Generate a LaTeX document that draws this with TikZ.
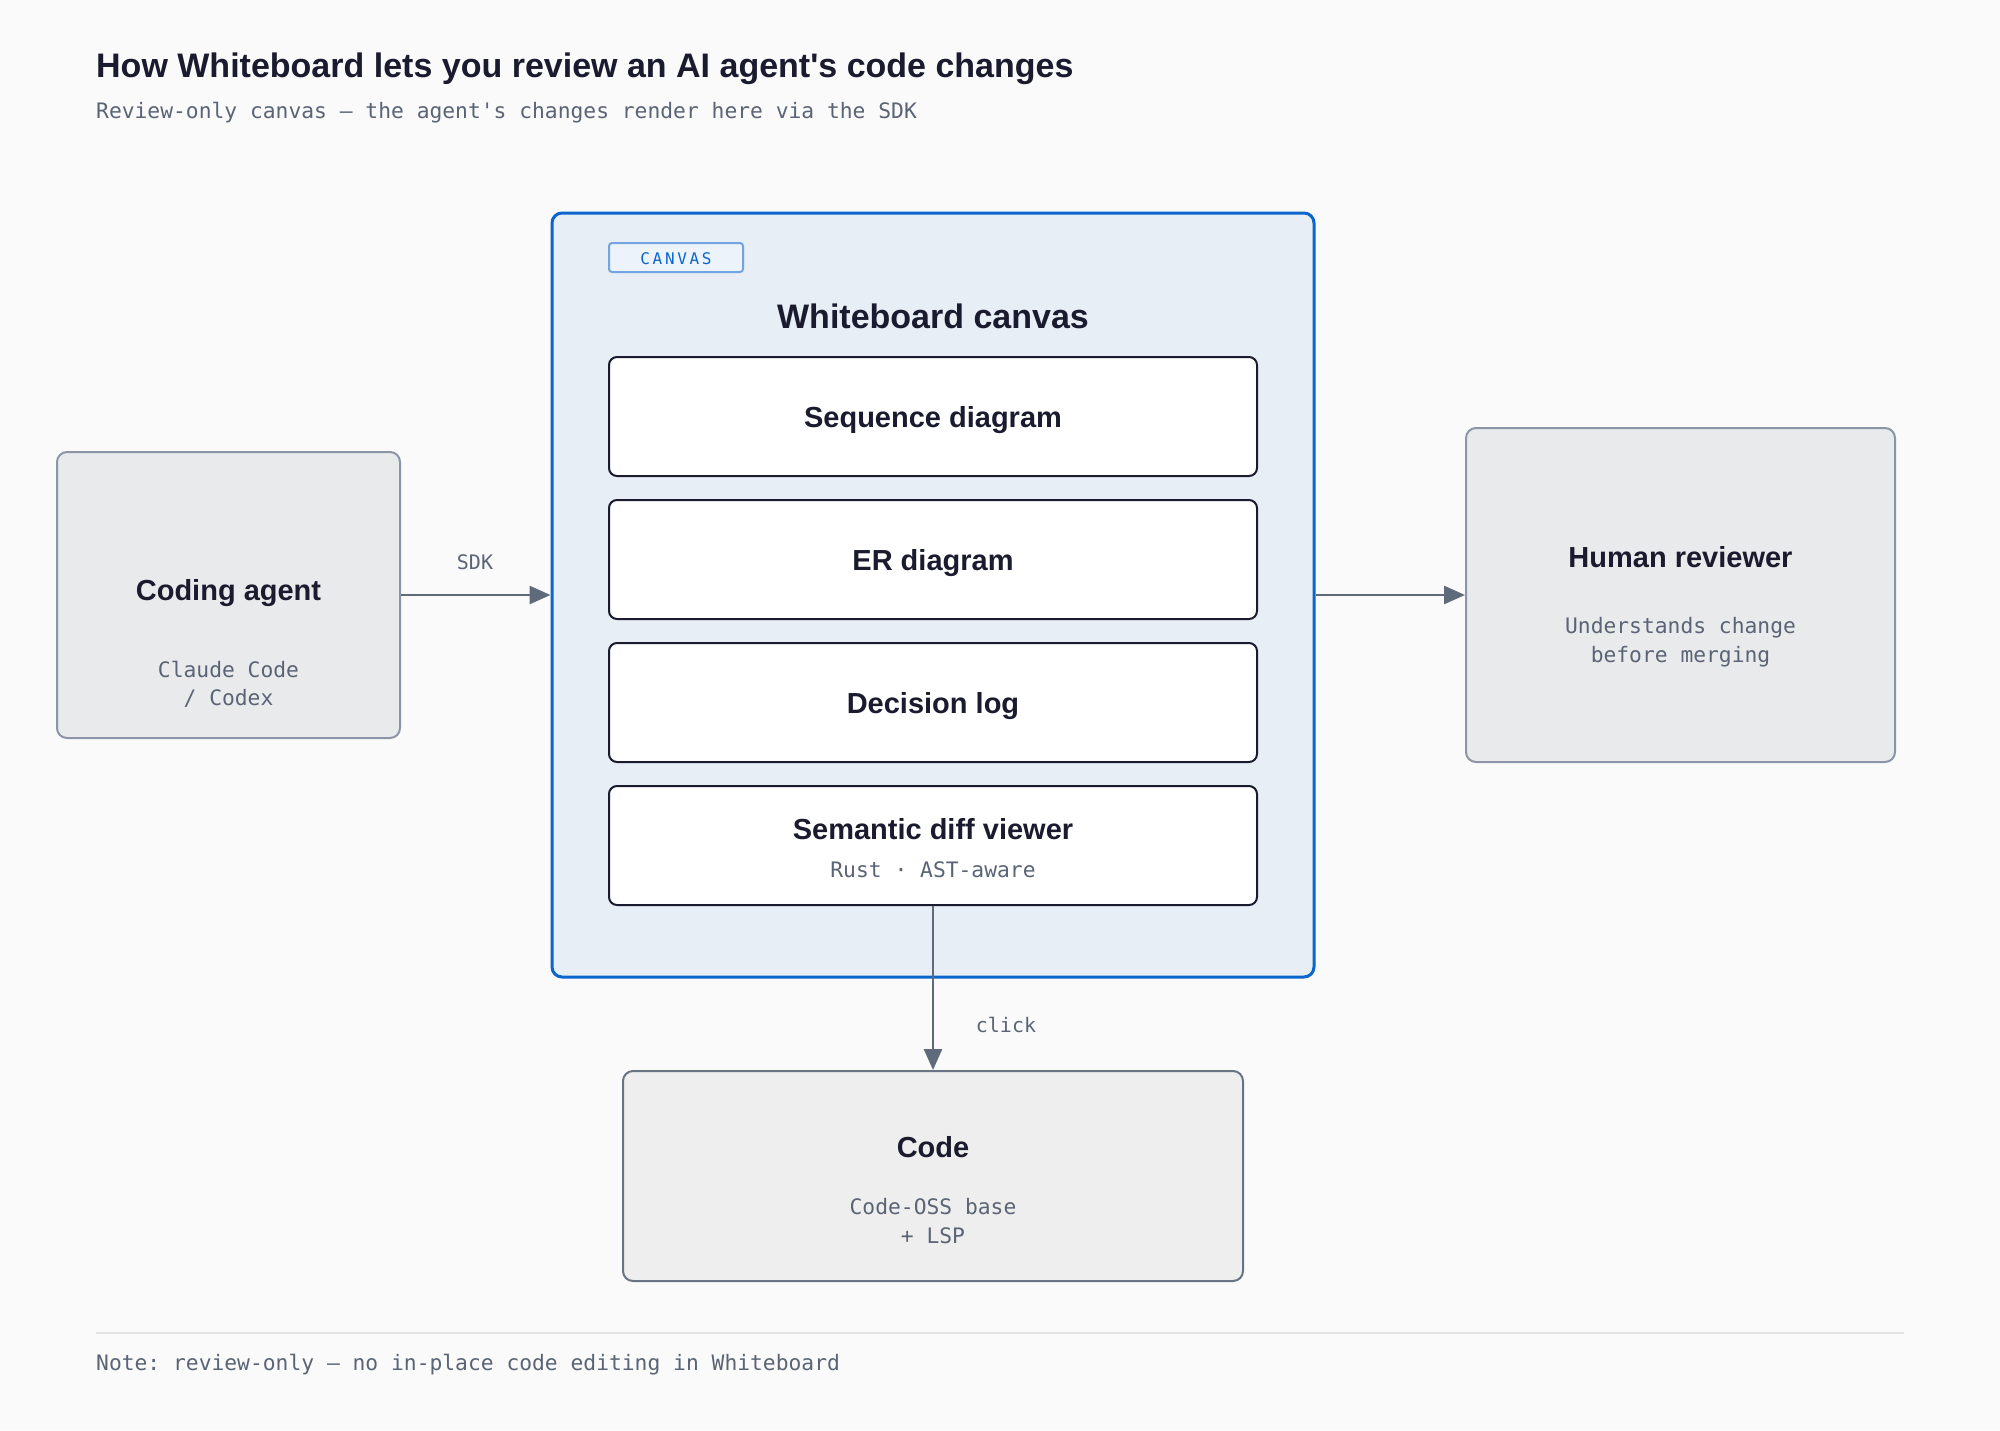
\documentclass[tikz,border=0pt]{standalone}
\usepackage{fontspec}
\setmainfont{Liberation Sans}
\newfontfamily\monof{DejaVu Sans Mono}
\usetikzlibrary{arrows.meta}
\frenchspacing
\definecolor{bg}{HTML}{FAFAFA}
\definecolor{ink}{HTML}{1A1B2E}
\definecolor{muted}{HTML}{5A6475}
\definecolor{cblue}{HTML}{0A66CC}
\definecolor{cfill}{HTML}{E7EEF6}
\definecolor{tagstroke}{HTML}{72A4E2}
\definecolor{tagfill}{HTML}{EDF3FB}
\definecolor{sidefill}{HTML}{E9EAEC}
\definecolor{sidestroke}{HTML}{8C95A5}
\definecolor{codefill}{HTML}{EEEEEE}
\definecolor{codestroke}{HTML}{687384}
\definecolor{arrowc}{HTML}{5F6B7A}
\definecolor{sepc}{HTML}{E3E3E3}
\tikzset{
  bigtitle/.style={inner sep=0pt, text=ink, font=\fontsize{34}{40}\selectfont\bfseries},
  boxtitle/.style={inner sep=0pt, text=ink, font=\fontsize{29}{34}\selectfont\bfseries},
  monotext/.style={inner sep=0pt, text=muted, font=\monof\fontsize{21.3}{26}\selectfont},
  edgelabel/.style={inner sep=0pt, text=muted, font=\monof\fontsize{20}{24}\selectfont},
  sidebox/.style={draw=sidestroke, fill=sidefill, line width=2pt, rounded corners=10pt, inner sep=0pt},
  codebox/.style={draw=codestroke, fill=codefill, line width=2pt, rounded corners=10pt, inner sep=0pt},
  canvasbox/.style={draw=cblue, fill=cfill, line width=3pt, rounded corners=10pt, inner sep=0pt},
  innerbox/.style={draw=ink, fill=white, line width=2pt, rounded corners=8pt, inner sep=0pt, minimum width=648pt, minimum height=119pt},
  tagbox/.style={draw=tagstroke, fill=tagfill, line width=2pt, rounded corners=3pt, inner sep=0pt},
  arr/.style={draw=arrowc, line width=2.8pt, -{Triangle[length=21pt, width=18pt]}},
}
\begin{document}
\begin{tikzpicture}[x=1pt, y=-1pt]
\fill[bg] (0,0) rectangle (2000,1430);
\useasboundingbox (0,0) rectangle (2000,1430);

% header
\node[bigtitle, anchor=base west] (title) at (96,77) {How Whiteboard lets you review an AI agent\textquotesingle s code changes};
\node[monotext, anchor=base west] (subtitle) at (96,118) {Review-only canvas — the agent\textquotesingle s changes render here via the SDK};

% canvas
\node[canvasbox, minimum width=762pt, minimum height=764pt] (canvas) at (933,595) {};
\node[tagbox, minimum width=134pt, minimum height=29pt] (tag) at (676,257.5) {};
\node[inner sep=0pt, text=cblue, font=\monof\fontsize{16}{20}\selectfont, anchor=base] (tagtext) at (676,264) {C\,A\,N\,V\,A\,S};
\node[bigtitle, anchor=base] (canvastitle) at (933,328) {Whiteboard canvas};

\node[innerbox] (seq) at (933,416.5) {};
\node[boxtitle, anchor=base] (seqT) at (933,427) {Sequence diagram};
\node[innerbox] (er) at (933,559.5) {};
\node[boxtitle, anchor=base] (erT) at (933,570) {ER diagram};
\node[innerbox] (dec) at (933,702.5) {};
\node[boxtitle, anchor=base] (decT) at (933,713) {Decision log};
\node[innerbox] (sem) at (933,845.5) {};
\node[boxtitle, anchor=base] (semT) at (933,839) {Semantic diff viewer};
\node[monotext, anchor=base] (semS) at (933,877) {Rust · AST-aware};

% coding agent
\node[sidebox, minimum width=343pt, minimum height=286pt] (agent) at (228.5,595) {};
\node[boxtitle, anchor=base] (agentT) at (228.5,600) {Coding agent};
\node[monotext, anchor=base] (agentS1) at (228.5,677) {Claude Code};
\node[monotext, anchor=base] (agentS2) at (228.5,705) {/ Codex};

% human reviewer
\node[sidebox, minimum width=429pt, minimum height=334pt] (human) at (1680.5,595) {};
\node[boxtitle, anchor=base] (humanT) at (1680.5,567) {Human reviewer};
\node[monotext, anchor=base] (humanS1) at (1680.5,633) {Understands change};
\node[monotext, anchor=base] (humanS2) at (1680.5,662) {before merging};

% code
\node[codebox, minimum width=620pt, minimum height=210pt] (code) at (933,1176) {};
\node[boxtitle, anchor=base] (codeT) at (933,1157) {Code};
\node[monotext, anchor=base] (codeS1) at (933,1214) {Code-OSS base};
\node[monotext, anchor=base] (codeS2) at (933,1243) {+ LSP};

% connectors
\draw[arr] (agent.east) -- (canvas.west);
\node[edgelabel, anchor=base] (sdk) at (475,569) {SDK};
\draw[arr] (canvas.east) -- (human.west);
\draw[arr] (sem.south) -- (code.north);
\node[edgelabel, anchor=base] (click) at (1006,1032) {click};

% footer
\coordinate (sepL) at (96,1333);
\coordinate (sepR) at (1904,1333);
\draw[sepc, line width=2pt] (sepL) -- (sepR);
\node[monotext, anchor=base west] (note) at (96,1370) {Note: review-only — no in-place code editing in Whiteboard};
\end{tikzpicture}
\end{document}
